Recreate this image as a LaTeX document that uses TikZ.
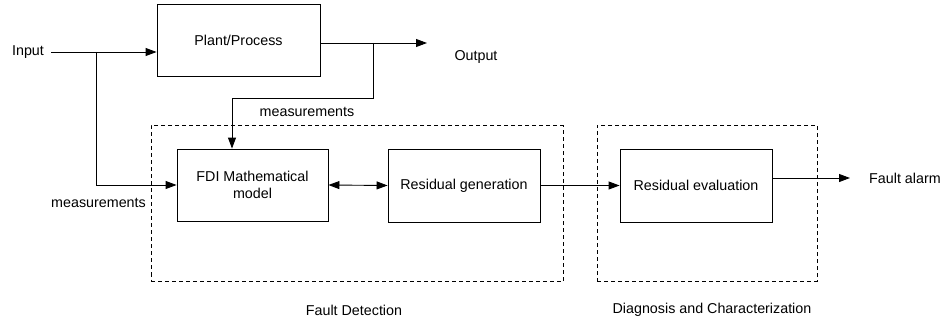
\documentclass[tikz,border=0pt]{standalone}
\usepackage{fontspec}
\setmainfont{Liberation Sans}
\usepackage{tikz}
\usetikzlibrary{arrows.meta}

\tikzset{
    blk/.style={draw, line width=0.9pt, align=center, inner sep=2pt},
    grp/.style={draw, line width=0.8pt, dash pattern=on 4pt off 3pt, inner sep=0pt},
    flow/.style={line width=0.9pt, -{Triangle[length=11pt, width=8pt]}},
    lbl/.style={inner sep=1pt}
}

\begin{document}
\begin{tikzpicture}[x=1pt, y=-1pt, font=\fontsize{14.3}{16.5}\selectfont]
    \useasboundingbox (0,0) rectangle (946,329);

    \coordinate (split) at (96,52);
    \coordinate (tap) at (373,43);
    \coordinate (bend) at (232,98);
    \coordinate (outend) at (427,43);
    \coordinate (alarmend) at (850,178);

    \node[grp, minimum width=412pt, minimum height=156pt] (detect) at (357,203.5) {};
    \node[grp, minimum width=220pt, minimum height=156pt] (diagnose) at (707,203) {};

    \node[blk, minimum width=163pt, minimum height=72pt] (plant) at (238.5,40) {Plant/Process};
    \node[blk, minimum width=151pt, minimum height=72pt] (model) at (252.5,185) {FDI Mathematical\\model};
    \node[blk, minimum width=152pt, minimum height=73pt] (resgen) at (464,185.5) {Residual generation};
    \node[blk, minimum width=152pt, minimum height=73pt] (reseval) at (696,185.5) {Residual evaluation};

    \node[lbl] (input) at (28,52) {Input};
    \node[lbl] (output) at (476,57) {Output};
    \node[lbl, anchor=west] (alarm) at (868,178) {Fault alarm};
    \node[lbl] (meastop) at (307,112) {measurements};
    \node[lbl, anchor=east] (measleft) at (147,203) {measurements};
    \node[lbl] (detectlbl) at (354,310) {Fault Detection};
    \node[lbl] (diaglbl) at (712,310) {Diagnosis and Characterization};

    \draw[flow, shorten <=6pt] (input) -- (input -| plant.west);
    \draw[flow] (split) |- (model.west);
    \draw[flow] (tap -| plant.east) -- (outend);
    \draw[flow] (tap) |- (bend) -- (bend |- model.north);
    \draw[flow, {Triangle[length=11pt, width=8pt]}-{Triangle[length=11pt, width=8pt]}] (model.east) -- (resgen.west);
    \draw[flow] (resgen.east) -- (reseval.west);
    \draw[flow] (reseval.east |- alarmend) -- (alarmend);
\end{tikzpicture}
\end{document}
